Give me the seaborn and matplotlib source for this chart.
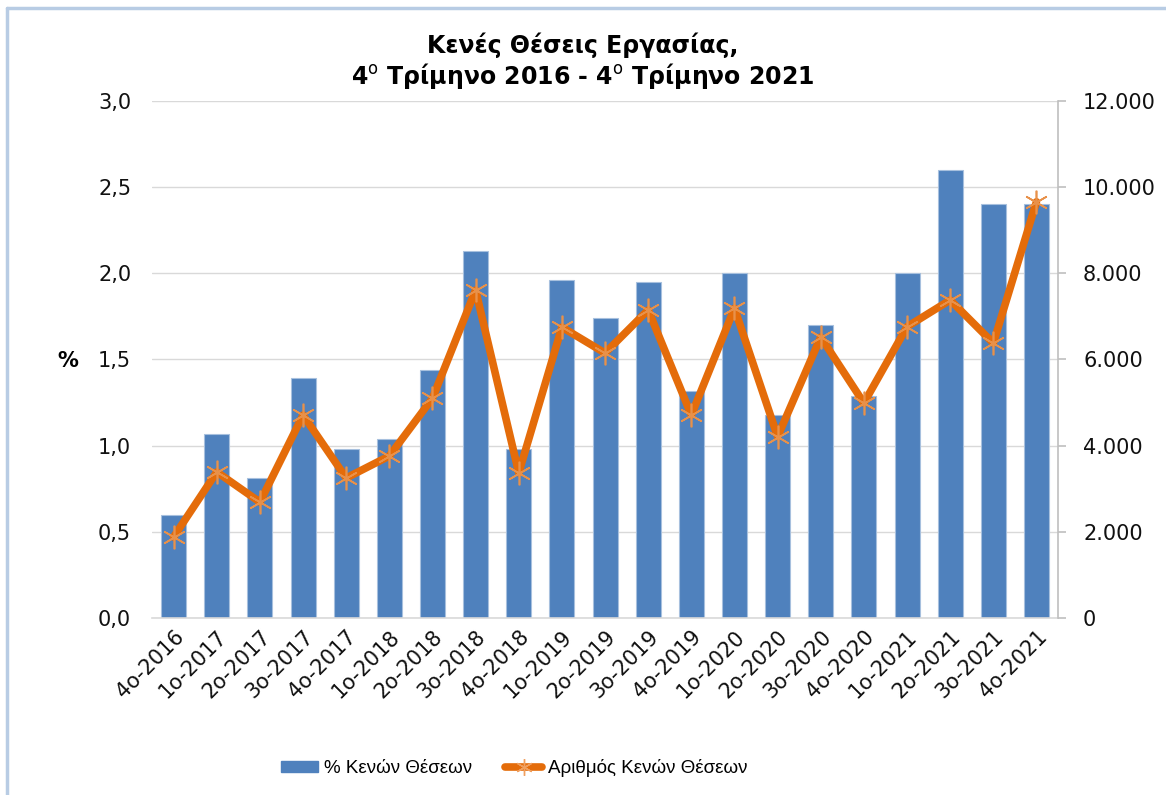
import numpy as np
import pandas as pd
import matplotlib
matplotlib.use("Agg")
import matplotlib.pyplot as plt
import matplotlib.ticker as mticker
from matplotlib.lines import Line2D
from matplotlib.patches import Patch
import seaborn as sns

# --- data ---
quarters = ["4ο-2016", "1ο-2017", "2ο-2017", "3ο-2017", "4ο-2017",
            "1ο-2018", "2ο-2018", "3ο-2018", "4ο-2018",
            "1ο-2019", "2ο-2019", "3ο-2019", "4ο-2019",
            "1ο-2020", "2ο-2020", "3ο-2020", "4ο-2020",
            "1ο-2021", "2ο-2021", "3ο-2021", "4ο-2021"]
vacancy_rate = [0.60, 1.07, 0.81, 1.39, 0.98,
                1.04, 1.44, 2.13, 0.98,
                1.96, 1.74, 1.95, 1.32,
                2.00, 1.18, 1.70, 1.29,
                2.00, 2.60, 2.40, 2.40]
vacancy_count = [1880, 3390, 2690, 4710, 3250,
                 3760, 5100, 7610, 3370,
                 6750, 6150, 7150, 4710,
                 7190, 4210, 6520, 4990,
                 6760, 7380, 6380, 9660]

df = pd.DataFrame({"quarter": quarters, "rate": vacancy_rate,
                   "count": vacancy_count, "pos": np.arange(len(quarters))})

bar_color = "#4F81BD"
line_color = "#E46C0A"
grid_color = "#D9D9D9"

sns.set_style("white")
plt.rcParams["font.family"] = ["DejaVu Sans"]
plt.rcParams["text.color"] = "black"

fig = plt.figure(figsize=(11.66, 7.95), dpi=100)
ax = fig.add_axes([0.1304, 0.2226, 0.777, 0.6504])

# bars (left axis, %)
sns.barplot(data=df, x="quarter", y="rate", color=bar_color, saturation=1,
            width=0.58, edgecolor="#A7C0DE", linewidth=0.8, ax=ax, zorder=2)
ax.set_ylim(0, 3.0)
ax.set_xlim(-0.5, len(quarters) - 0.5)
ax.set_yticks(np.arange(0, 3.01, 0.5))
ax.yaxis.set_major_formatter(mticker.FuncFormatter(lambda v, p: f"{v:.1f}".replace(".", ",")))
ax.yaxis.grid(True, color=grid_color, linewidth=1, zorder=0)
ax.set_axisbelow(True)
for s in ["top", "left", "right"]:
    ax.spines[s].set_visible(False)
ax.spines["bottom"].set_color(grid_color)
ax.spines["bottom"].set_linewidth(1.2)
ax.tick_params(axis="y", length=0, pad=15, labelsize=15, labelcolor="#111111")
ax.tick_params(axis="x", length=0, pad=6)
ax.set_xlabel("")
ax.set_ylabel("")
ax.set_xticks(df["pos"])
ax.set_xticklabels(quarters, rotation=45, ha="right", rotation_mode="anchor",
                   fontsize=15, color="#111111")
fig.text(0.058, 0.546, "%", fontsize=15, fontweight="bold", ha="center", va="center")

# line (right axis, number of vacancies)
ax2 = ax.twinx()
sns.lineplot(data=df, x="pos", y="count", color=line_color, linewidth=5.5,
             marker=(6, 2, 0), markersize=17, markeredgecolor="#E8914A",
             markeredgewidth=1.2, ax=ax2, zorder=3)
ax2.set_ylim(0, 12000)
ax2.set_yticks(np.arange(0, 12001, 2000))
ax2.yaxis.set_major_formatter(mticker.FuncFormatter(lambda v, p: f"{int(v):,}".replace(",", ".")))
for s in ["top", "left", "bottom"]:
    ax2.spines[s].set_visible(False)
ax2.spines["right"].set_color("#BFBFBF")
ax2.spines["right"].set_linewidth(1.2)
ax2.tick_params(axis="y", direction="out", length=6, width=1.2, color="#BFBFBF",
                pad=12, labelsize=15, labelcolor="#111111")
ax2.set_ylabel("")
ax2.set_xlabel("")
ax2.set_xlim(-0.5, len(quarters) - 0.5)

# title
fig.text(0.5, 0.943, "Κενές Θέσεις Εργασίας,", fontsize=17, fontweight="bold",
         ha="center", va="center", color="black")
fig.text(0.5, 0.905, "4$^{\\mathrm{ο}}$ Τρίμηνο 2016 - 4$^{\\mathrm{ο}}$ Τρίμηνο 2021",
         fontsize=17, fontweight="bold", ha="center", va="center", color="black")

# legend
handles = [Patch(facecolor=bar_color, edgecolor=bar_color),
           Line2D([0], [0], color=line_color, linewidth=5.5, marker=(6, 2, 0),
                  markersize=12, markeredgecolor="#F0A060", markeredgewidth=1)]
labels = ["% Κενών Θέσεων", "Αριθμός Κενών Θέσεων"]
fig.legend(handles, labels, loc="center", bbox_to_anchor=(0.441, 0.034), ncol=2,
           frameon=False, prop={"family": "Liberation Sans", "size": 13.5},
           labelcolor="black",
           handlelength=2.0, handleheight=0.55, columnspacing=1.75, handletextpad=0.3)

# chart border (left and top edges visible in the reference)
fig.add_artist(Line2D([0.006, 0.006], [0, 0.99], color="#B8CCE4", linewidth=2.5))
fig.add_artist(Line2D([0.006, 1.0], [0.99, 0.99], color="#B8CCE4", linewidth=2.5))

fig.savefig("out.png", dpi=100, facecolor="white")
